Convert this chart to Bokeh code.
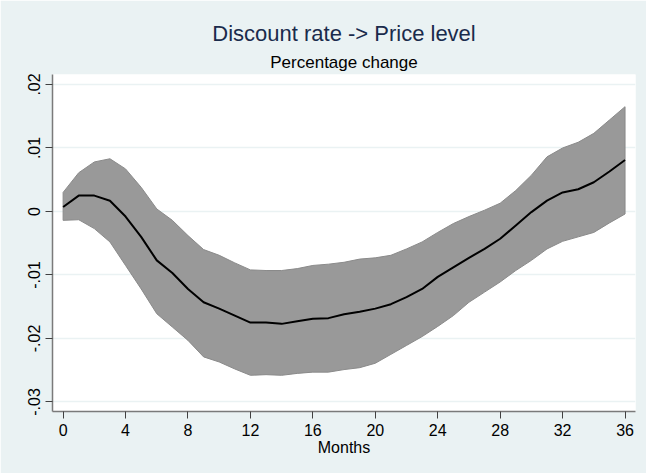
from bokeh.plotting import figure
from bokeh.models import FixedTicker, Range1d, Title
from bokeh.embed import file_html
from bokeh.resources import INLINE

# Impulse response of the price level to a discount-rate shock (months 0..36)
months = list(range(37))
irf = [0.0007, 0.0025, 0.0025, 0.0017, -0.0008, -0.0040, -0.0077, -0.0097, -0.0122,
       -0.0143, -0.0153, -0.0164, -0.0175, -0.0175, -0.0177, -0.0173, -0.0169, -0.0168,
       -0.0162, -0.0158, -0.0153, -0.0146, -0.0135, -0.0122, -0.0103, -0.0088, -0.0073,
       -0.0059, -0.0043, -0.0022, -0.0001, 0.0017, 0.0030, 0.0035, 0.0046, 0.0063, 0.0081]
upper = [0.0030, 0.0061, 0.0078, 0.0083, 0.0067, 0.0038, 0.0004, -0.0014, -0.0038,
         -0.0060, -0.0069, -0.0081, -0.0092, -0.0093, -0.0093, -0.0090, -0.0085, -0.0083,
         -0.0080, -0.0075, -0.0073, -0.0069, -0.0059, -0.0048, -0.0033, -0.0019, -0.0008,
         0.0002, 0.0013, 0.0033, 0.0057, 0.0086, 0.0100, 0.0109, 0.0123, 0.0144, 0.0165]
lower = [-0.0014, -0.0013, -0.0027, -0.0048, -0.0085, -0.0122, -0.0161, -0.0182, -0.0203,
         -0.0229, -0.0237, -0.0248, -0.0258, -0.0257, -0.0258, -0.0255, -0.0253, -0.0253,
         -0.0249, -0.0246, -0.0239, -0.0225, -0.0211, -0.0197, -0.0181, -0.0164, -0.0143,
         -0.0127, -0.0111, -0.0093, -0.0077, -0.0059, -0.0047, -0.0040, -0.0033, -0.0018,
         -0.0004]

x_ticks = [0, 4, 8, 12, 16, 20, 24, 28, 32, 36]
y_ticks = [-0.03, -0.02, -0.01, 0.0, 0.01, 0.02]
y_tick_labels = ["-.03", "-.02", "-.01", "0", ".01", ".02"]

FONT = "Liberation Sans"
BG = "#eaf2f3"

p = figure(width=646, height=473, output_backend="svg", toolbar_location=None,
           title=None,
           x_range=Range1d(-0.68, 36.67), y_range=Range1d(-0.0315, 0.02157),
           min_border_left=52, min_border_right=11, min_border_top=74,
           min_border_bottom=62)
p.background_fill_color = "white"
p.border_fill_color = BG
p.outline_line_color = None

# Titles (added outward from the plot area)
p.add_layout(Title(text="Percentage change", align="center", text_font=FONT,
                   text_font_size="17px", text_font_style="normal",
                   text_color="black", standoff=6), "above")
p.add_layout(Title(text="Discount rate -> Price level", align="center", text_font=FONT,
                   text_font_size="22px", text_font_style="normal",
                   text_color="#1a2b4c", standoff=4), "above")

# Confidence band
band_x = months + months[::-1]
band_y = upper + lower[::-1]
p.patch(band_x, band_y, fill_color="#999999", line_color="#8a8a8a", line_width=1)

# Point estimate
p.line(months, irf, line_color="black", line_width=2)

# Axes
p.xaxis.ticker = FixedTicker(ticks=x_ticks)
p.yaxis.ticker = FixedTicker(ticks=y_ticks)
p.yaxis.major_label_overrides = {t: l for t, l in zip(y_ticks, y_tick_labels)}
p.yaxis.major_label_orientation = "vertical"
p.xaxis.axis_label = "Months"

for ax in (p.xaxis, p.yaxis):
    ax.axis_line_color = "#7a7a7a"
    ax.axis_line_width = 1.5
    ax.major_tick_line_color = "#404040"
    ax.major_tick_in = 0
    ax.major_tick_out = 7
    ax.minor_tick_line_color = None
    ax.major_label_text_font = FONT
    ax.major_label_text_font_size = "16px"
    ax.major_label_text_color = "black"
    ax.major_label_standoff = 5
    ax.axis_label_text_font = FONT
    ax.axis_label_text_font_size = "16px"
    ax.axis_label_text_font_style = "normal"
    ax.axis_label_text_color = "black"
    ax.axis_label_standoff = 0

p.xgrid.grid_line_color = None
p.ygrid.grid_line_color = BG
p.ygrid.grid_line_width = 1.5

open("out.html", "w").write(file_html(p, INLINE))
